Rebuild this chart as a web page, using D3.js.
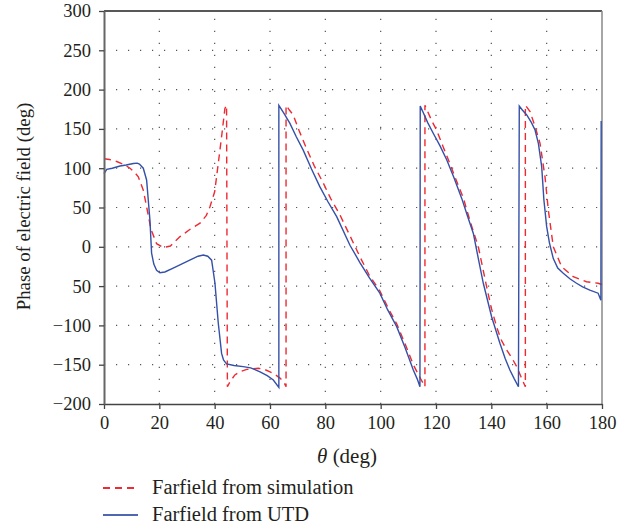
<!DOCTYPE html>
<html>
<head>
<meta charset="utf-8">
<script src="https://cdn.jsdelivr.net/npm/d3@7"></script>
<style>
  body { margin: 0; background: #fff; }
  svg { display: block; }
  text { font-family: "Liberation Serif", "DejaVu Serif", serif; fill: #231f20; }
</style>
</head>
<body>
<div id="chart"></div>
<script>
// x axis (theta) and y axis (phase) ticks
var xTicks = [0, 20, 40, 60, 80, 100, 120, 140, 160, 180];
var yTicks = [300, 250, 200, 150, 100, 50, 0, -50, -100, -150, -200];
var yTickLabels = ["300", "250", "200", "150", "100", "50", "0", "50", "\u2212100", "\u2212150", "\u2212200"];

// farfield from simulation (red dashed)
var thetaSim = [0, 2, 4.6, 7, 9.4, 11, 12.4, 14.2, 15.4, 17, 19, 21.4, 24, 27.5, 31, 34.7, 37, 38.3, 40, 41.3, 42.5, 43.7, 44.3,
  44.6, 45.5, 47.3, 49, 51.6, 55.8, 58, 60, 62, 63.6, 65, 65.8,
  65.8, 67, 68.4, 70.5, 73.2, 76, 79.3, 82, 85.3, 88.9, 92.5, 96, 99.7, 103, 105.8, 109, 111.8, 114, 116,
  116, 117, 118.5, 120.2, 122.5, 125, 127.5, 129.9, 131.1, 133, 135.3, 138.3, 140, 141.9, 143.5, 145.5, 147.5, 149.2, 150.8, 152.3,
  152.3, 154, 155.8, 157.6, 159.4, 160.6, 162.4, 165.4, 169.6, 174.4, 178.6, 180];
var phaseSim = [112, 111, 108.5, 105, 100, 95, 89, 72, 51, 22, 4, -1, 1, 13, 22, 30, 40, 51, 70, 106, 140, 176, 180,
  -178, -172, -163, -159, -156, -154.6, -156, -159, -163, -167, -172, -178,
  180, 174, 167.7, 148, 125, 103, 80.8, 61, 40.5, 14, -12.6, -37, -56, -80, -98, -125, -150, -165, -178,
  180, 172, 160, 148.6, 128, 106, 83, 62, 47, 25, 0, -50.8, -78, -101.6, -118, -131, -142, -152.5, -166, -178,
  180, 172, 153, 131.7, 89, 46.8, 0, -25.4, -38, -44.4, -46.4, -48];

// farfield from UTD (blue solid)
var thetaUtd = [0, 1, 3, 5.8, 8, 10.6, 12, 12.8, 14.2, 15.4, 16, 16.6, 17.2, 18, 19, 20.2, 22, 25, 28, 31, 34, 35.9, 37.5, 38.9,
  40.1, 41.3, 42.5, 43.2, 44.3, 47, 50.3, 53, 56.4, 59, 61.2, 63.2,
  63.2, 65, 67.2, 69.5, 72, 75, 78, 81, 84.1, 88.9, 92.5, 96, 99.7, 102.5, 105.8, 108.8, 111.8, 113.2, 114.2,
  114.3, 115.5, 117, 119, 121.5, 123.9, 126.5, 129.3, 131.5, 133.5, 135.3, 137.1, 140.1, 143.1, 145, 146.7, 148.3, 149.8,
  150.1, 151.2, 152.8, 154.5, 155.8, 157, 158.2, 159, 160, 161, 162.4, 164, 166, 168.5, 170.8, 173, 175.6, 178.6, 179.6, 179.7];
var phaseUtd = [93, 98.6, 100, 102.8, 104, 106, 106.5, 105.3, 100, 85, 59.5, 34, -8, -22, -30, -33, -32, -27, -22, -17, -12, -10.5, -12, -17,
  -46, -97, -135.6, -144, -149, -151, -152.5, -154, -159, -164, -169.5, -178.8,
  180, 170, 157, 140, 123, 99, 76.5, 57, 38.3, 2, -20, -40, -59, -80, -101.6, -128, -156.7, -168, -178,
  179, 170, 158, 144.4, 128, 110.4, 88, 61.6, 38, 17, -15, -46.4, -89, -122.8, -142, -156.7, -168, -178,
  179, 174, 167.7, 158, 148.6, 131.7, 102, 59.5, 25.6, 5, -15, -27, -33.7, -41, -46.4, -51, -55, -59, -68, 160];

var seriesNames = ["Farfield from simulation", "Farfield from UTD"];

var margin = {top: 11, right: 40, bottom: 128, left: 104},
    width = 642 - margin.left - margin.right,
    height = 532 - margin.top - margin.bottom;

var x = d3.scaleLinear().domain([0, 180]).range([0, width]);
var y = d3.scaleLinear().domain([-200, 300]).range([height, 0]);

var svg = d3.select("#chart").append("svg")
    .attr("width", 642)
    .attr("height", 532)
  .append("g")
    .attr("transform", "translate(" + margin.left + "," + margin.top + ")");

// dotted grid
svg.append("g").selectAll("line")
    .data(xTicks.slice(1, -1))
  .enter().append("line")
    .attr("x1", function(d) { return x(d); })
    .attr("x2", function(d) { return x(d); })
    .attr("y1", height)
    .attr("y2", 0)
    .style("stroke", "#555")
    .style("stroke-width", 1.2)
    .style("stroke-dasharray", "1.2,10.8");
svg.append("g").selectAll("line")
    .data(yTicks.slice(1, -1))
  .enter().append("line")
    .attr("x1", 0)
    .attr("x2", width)
    .attr("y1", function(d) { return y(d); })
    .attr("y2", function(d) { return y(d); })
    .style("stroke", "#555")
    .style("stroke-width", 1.2)
    .style("stroke-dasharray", "1.2,10.8");

// frame: top black, right gray
svg.append("line").attr("x1", 0).attr("x2", width).attr("y1", 0).attr("y2", 0)
    .style("stroke", "#231f20").style("stroke-width", 1.5);
svg.append("line").attr("x1", width).attr("x2", width).attr("y1", 0).attr("y2", height)
    .style("stroke", "#888").style("stroke-width", 1.5);

// lines
var simLine = d3.line()
    .x(function(d) { return x(d[0]); })
    .y(function(d) { return y(d[1]); });

svg.append("path")
    .datum(d3.zip(thetaSim, phaseSim))
    .attr("d", simLine)
    .style("fill", "none")
    .style("stroke", "#ee2a32")
    .style("stroke-width", 1.4)
    .style("stroke-dasharray", "7,5");

svg.append("path")
    .datum(d3.zip(thetaUtd, phaseUtd))
    .attr("d", simLine)
    .style("fill", "none")
    .style("stroke", "#3450a8")
    .style("stroke-width", 1.4);

// axes
var xAxis = svg.append("g")
    .attr("transform", "translate(0," + height + ")")
    .call(d3.axisBottom(x).tickValues(xTicks).tickSize(5).tickSizeOuter(0).tickPadding(7));
var yAxis = svg.append("g")
    .call(d3.axisLeft(y).tickValues(yTicks).tickSize(5).tickSizeOuter(0).tickPadding(8)
      .tickFormat(function(d, i) { return yTickLabels[i]; }));

xAxis.select(".domain").style("stroke", "#444").style("stroke-width", 1.6);
yAxis.select(".domain").style("stroke", "#666").style("stroke-width", 2);
xAxis.selectAll(".tick line").style("stroke", "#444").style("stroke-width", 1.3);
yAxis.selectAll(".tick line").style("stroke", "#444").style("stroke-width", 1.3);
svg.selectAll(".tick text")
    .style("font-family", "'Liberation Serif', serif")
    .style("font-size", "18.5px")
    .style("fill", "#231f20");

// axis titles
svg.append("text")
    .attr("x", 243)
    .attr("y", height + 59)
    .attr("text-anchor", "middle")
    .style("font-size", "21px")
    .html("<tspan font-style='italic'>\u03b8</tspan> (deg)");

svg.append("text")
    .attr("transform", "translate(-74," + (height / 2 - 1) + ") rotate(-90)")
    .attr("text-anchor", "middle")
    .style("font-size", "18.8px")
    .text("Phase of electric field (deg)");

// legend
var legend = svg.append("g")
    .attr("transform", "translate(0," + (height + 84) + ")");
var styles = [{c: "#ee2a32", d: "7,5"}, {c: "#5068b4", d: null}];
seriesNames.forEach(function(name, i) {
  var g = legend.append("g").attr("transform", "translate(0," + (i * 27) + ")");
  g.append("line")
      .attr("x1", -1).attr("x2", 34).attr("y1", 0).attr("y2", 0)
      .style("stroke", styles[i].c)
      .style("stroke-width", 1.8)
      .style("stroke-dasharray", styles[i].d);
  g.append("text")
      .attr("x", 48)
      .attr("y", 6)
      .style("font-size", "20.5px")
      .text(name);
});
</script>
</body>
</html>
